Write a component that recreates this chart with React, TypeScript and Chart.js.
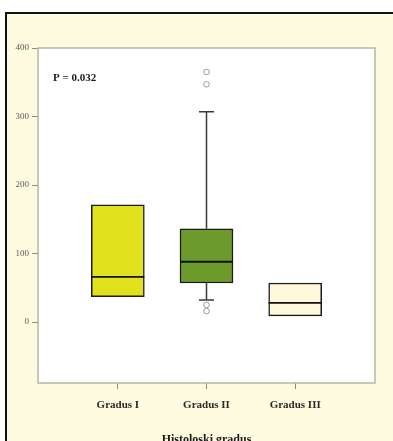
import { useEffect, useRef } from "react";
import { Chart, registerables } from "chart.js";

Chart.register(...registerables);

// Box-plot statistics per histological grade
const categories = ["Gradus I", "Gradus II", "Gradus III"];
const q1 = [37, 57, 9];
const median = [66, 88, 28];
const q3 = [171, 136, 57];
const whiskerLow = [37, 32, 9];
const whiskerHigh = [171, 307, 57];
const outliers: number[][] = [[], [365, 347, 25, 16], []];
const boxColors = ["#E1E11E", "#6C9B2B", "#FFF8DA"];
const yTicks = [0, 100, 200, 300, 400];
const pValueLabel = "P = 0.032";
const xTitle = "Histoloski gradus";

const CREAM = "#FFFBE0";

// Whiskers, caps, medians, frame and the p-value annotation
const boxPlotExtras = {
  id: "boxPlotExtras",
  beforeDraw(chart: any) {
    const { ctx, chartArea } = chart;
    ctx.save();
    ctx.fillStyle = CREAM;
    ctx.fillRect(0, 0, chart.width, chart.height);
    ctx.fillStyle = "#FFFFFF";
    ctx.fillRect(chartArea.left, chartArea.top, chartArea.right - chartArea.left, chartArea.bottom - chartArea.top);
    ctx.restore();
  },
  beforeDatasetsDraw(chart: any) {
    const { ctx } = chart;
    const xs = chart.scales.x;
    const ys = chart.scales.y;
    ctx.save();
    ctx.strokeStyle = "#3a3a3a";
    ctx.lineWidth = 1.5;
    categories.forEach((_, i) => {
      const cx = xs.getPixelForValue(i + 1);
      const cap = 7.5;
      if (whiskerHigh[i] > q3[i]) {
        const yTop = ys.getPixelForValue(whiskerHigh[i]);
        ctx.beginPath();
        ctx.moveTo(cx, ys.getPixelForValue(q3[i]));
        ctx.lineTo(cx, yTop);
        ctx.moveTo(cx - cap, yTop);
        ctx.lineTo(cx + cap, yTop);
        ctx.stroke();
      }
      if (whiskerLow[i] < q1[i]) {
        const yBot = ys.getPixelForValue(whiskerLow[i]);
        ctx.beginPath();
        ctx.moveTo(cx, ys.getPixelForValue(q1[i]));
        ctx.lineTo(cx, yBot);
        ctx.moveTo(cx - cap, yBot);
        ctx.lineTo(cx + cap, yBot);
        ctx.stroke();
      }
    });
    ctx.restore();
  },
  afterDatasetsDraw(chart: any) {
    const { ctx, chartArea } = chart;
    const xs = chart.scales.x;
    const ys = chart.scales.y;
    const meta = chart.getDatasetMeta(0);
    ctx.save();
    ctx.strokeStyle = "#111111";
    ctx.lineWidth = 1.8;
    meta.data.forEach((bar: any, i: number) => {
      const half = bar.width / 2;
      const y = ys.getPixelForValue(median[i]);
      ctx.beginPath();
      ctx.moveTo(bar.x - half, y);
      ctx.lineTo(bar.x + half, y);
      ctx.stroke();
    });
    // plot frame
    ctx.strokeStyle = "#B8B6A4";
    ctx.lineWidth = 1.5;
    ctx.strokeRect(chartArea.left, chartArea.top, chartArea.right - chartArea.left, chartArea.bottom - chartArea.top);
    // p-value annotation
    ctx.fillStyle = "#1a1a1a";
    ctx.font = "bold 11px 'Liberation Serif', serif";
    ctx.textAlign = "left";
    ctx.textBaseline = "middle";
    ctx.fillText(pValueLabel, xs.getPixelForValue(0.27), ys.getPixelForValue(356));
    ctx.restore();
  },
};

export default function App() {
  const ref = useRef<HTMLCanvasElement | null>(null);

  useEffect(() => {
    if (!ref.current) return;
    const outlierPoints: { x: number; y: number }[] = [];
    outliers.forEach((vals, i) => vals.forEach((v) => outlierPoints.push({ x: i + 1, y: v })));

    const chart = new Chart(ref.current, {
      type: "bar",
      data: {
        datasets: [
          {
            type: "bar",
            data: categories.map((_, i) => ({ x: i + 1, y: [q1[i], q3[i]] })) as any,
            backgroundColor: boxColors,
            borderColor: "#1a1a1a",
            borderWidth: 1.5,
            borderSkipped: false,
            barThickness: 53,
          } as any,
          {
            type: "scatter",
            data: outlierPoints,
            pointStyle: "circle",
            pointRadius: 2.8,
            pointBorderWidth: 1,
            pointBorderColor: "#9a9a9a",
            pointBackgroundColor: "rgba(255,255,255,0)",
          } as any,
        ],
      },
      options: {
        animation: false,
        responsive: false,
        devicePixelRatio: 1,
        layout: { padding: { top: 34, right: 18, left: 0, bottom: 0 } },
        plugins: { legend: { display: false }, tooltip: { enabled: false } },
        scales: {
          x: {
            type: "linear",
            min: 0.1,
            max: 3.9,
            offset: false,
            afterBuildTicks: (scale: any) => {
              scale.ticks = categories.map((_, i) => ({ value: i + 1 }));
            },
            afterFit: (scale: any) => {
              scale.height = 71;
            },
            grid: { offset: false, drawOnChartArea: false, drawTicks: true, tickLength: 6, color: "#8a8a8a" },
            border: { display: false },
            ticks: {
              padding: 10,
              color: "#2a2a2a",
              font: { family: "'Liberation Serif', serif", size: 11, weight: "bold" },
              callback: (v: any) => categories[Math.round(Number(v)) - 1] ?? "",
              maxRotation: 0,
              autoSkip: false,
            },
            title: {
              display: true,
              text: xTitle,
              color: "#1a1a1a",
              font: { family: "'Liberation Serif', serif", size: 12, weight: "bold" },
              padding: { top: 0, bottom: 7 },
            },
          },
          y: {
            type: "linear",
            min: -89,
            max: 400,
            afterBuildTicks: (scale: any) => {
              scale.ticks = yTicks.map((v) => ({ value: v }));
            },
            afterFit: (scale: any) => {
              scale.width = 31;
            },
            grid: { drawOnChartArea: false, drawTicks: true, tickLength: 6, color: "#8a8a8a" },
            border: { display: false },
            ticks: {
              padding: 3,
              color: "#5a5a5a",
              font: { family: "'Liberation Serif', serif", size: 9 },
            },
          },
        },
      },
      plugins: [boxPlotExtras],
    });
    return () => chart.destroy();
  }, []);

  return (
    <div style={{ position: "absolute", left: 0, top: 0, width: 393, height: 441, overflow: "hidden", background: "#FFFFFF" }}>
      <div
        style={{
          position: "absolute",
          left: 5,
          top: 12,
          width: 388,
          height: 429,
          background: CREAM,
          borderTop: "2px solid #111",
          borderLeft: "2px solid #111",
        }}
      />
      <canvas
        ref={ref}
        width={386}
        height={440}
        style={{ position: "absolute", left: 7, top: 14, width: 386, height: 440 }}
      />
    </div>
  );
}
